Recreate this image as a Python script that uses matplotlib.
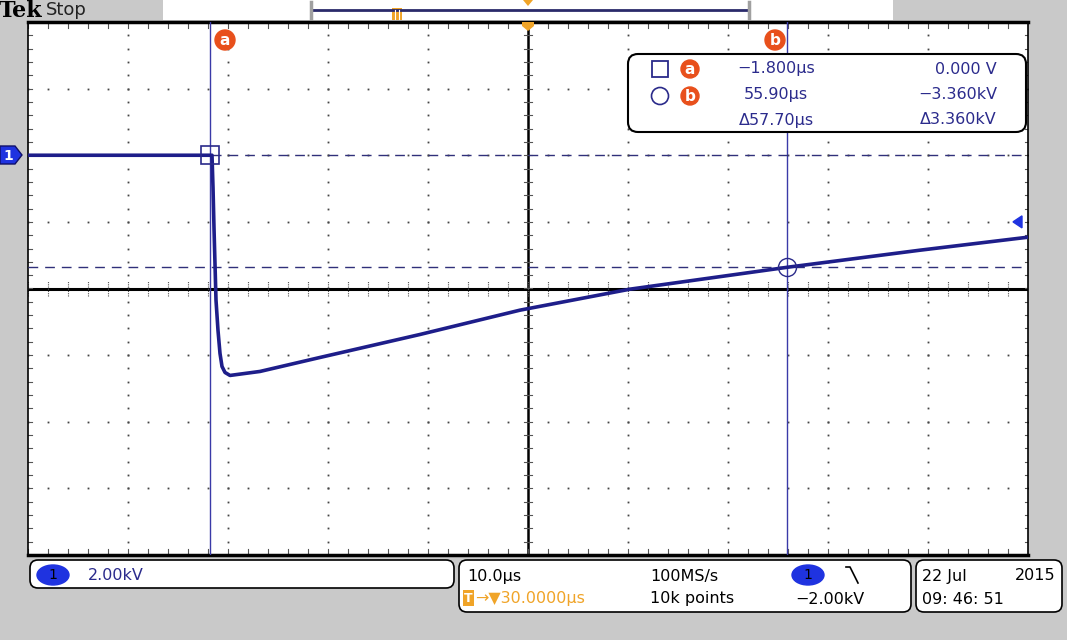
import numpy as np
import matplotlib
matplotlib.use("Agg")
import matplotlib.pyplot as plt
from matplotlib.patches import FancyBboxPatch, Rectangle, Polygon, Ellipse

# waveform (time in us, voltage in kV)
t_us = [-20, -1.6, -1.5, -1.4, -1.2, -1.0, -0.8, -0.6, -0.3, 0.2, 3.2, 9.2, 19.2, 29.2, 40.2, 56.0, 69.2, 80]
v_kv = [0, 0, -0.96, -2.19, -4.35, -5.26, -5.95, -6.34, -6.52, -6.61, -6.49, -6.07, -5.38, -4.65, -4.02, -3.36, -2.85, -2.46]

# cursors
cur_t = [-1.8, 55.9]
cur_v = [0.0, -3.36]
readout_t = ["\u22121.800\u00b5s", "55.90\u00b5s", "\u039457.70\u00b5s"]
readout_v = ["0.000 V", "\u22123.360kV", "\u03943.360kV"]

# scope settings
t_min, t_max = -20, 80       # 10 us/div
v_min, v_max = -12, 4        # 2 kV/div
trig_level = -2.0

BG = "#c9c9c9"
NAVY = "#1e1e8a"
CURSOR = "#3a3aa8"
BLUE = "#1f33e0"
ORANGE = "#e8501c"
GOLD = "#f0a428"
TICK = "#555555"

W, H = 1067, 640
fig = plt.figure(figsize=(W / 100, H / 100), dpi=100, facecolor=BG)

# background layer in pixel coords
bg = fig.add_axes([0, 0, 1, 1], zorder=0)
bg.set_xlim(0, W)
bg.set_ylim(H, 0)
bg.axis("off")
bg.set_facecolor(BG)

# scope screen
L, R, T, B = 28, 1028, 22, 555
ax = fig.add_axes([L / W, (H - B) / H, (R - L) / W, (B - T) / H], zorder=1)
ax.set_xlim(t_min, t_max)
ax.set_ylim(v_min, v_max)
ax.set_xticks([])
ax.set_yticks([])
ax.set_facecolor("white")
for side in ["top", "bottom"]:
    ax.spines[side].set_linewidth(2.5)
for side in ["left", "right"]:
    ax.spines[side].set_linewidth(1.2)

# graticule dots
minor_v = np.arange(v_min, v_max + 0.01, 0.4)
minor_t = np.arange(t_min, t_max + 0.01, 2)
for tx in range(-10, 71, 10):
    if tx == 30:
        continue
    ax.plot([tx] * len(minor_v), minor_v, ls="none", marker="s", ms=1.3, color="#444444", mew=0)
for vy in range(-10, 3, 2):
    if vy == -4:
        continue
    ax.plot(minor_t, [vy] * len(minor_t), ls="none", marker="s", ms=1.3, color="#444444", mew=0)

# centre lines with ticks
ax.axhline(-4, color="black", lw=2.2, zorder=2)
ax.axvline(30, color="black", lw=1.8, zorder=2)
for tx in minor_t:
    ax.plot([tx, tx], [-4.22, -3.78], color=TICK, lw=0.8, ls=(0, (1, 1)))
    ax.plot([tx, tx], [v_max, v_max - 0.18], color=TICK, lw=0.8)
    ax.plot([tx, tx], [v_min, v_min + 0.18], color=TICK, lw=0.8)
for vy in minor_v:
    ax.plot([29.6, 30.4], [vy, vy], color=TICK, lw=0.8)
    ax.plot([t_min, t_min + 0.35], [vy, vy], color=TICK, lw=0.8)
    ax.plot([t_max, t_max - 0.35], [vy, vy], color=TICK, lw=0.8)

# cursors
for ct in cur_t:
    ax.axvline(ct, color=CURSOR, lw=1, zorder=3)
for cv in cur_v:
    ax.axhline(cv, color="#30307a", lw=1, ls=(0, (7, 5)), zorder=3)

# trace
ax.plot(t_us, v_kv, color=NAVY, lw=2.6, zorder=4, solid_joinstyle="round")

ax.plot(cur_t[0], cur_v[0], marker="s", ms=13, mfc="none", mec="#2a2a8a", mew=1.2, zorder=5)
ax.plot(cur_t[1], cur_v[1], marker="o", ms=13, mfc="none", mec="#2a2a8a", mew=1.0, zorder=5)

# overlay layer in pixel coords
ov = fig.add_axes([0, 0, 1, 1], zorder=3)
ov.set_xlim(0, W)
ov.set_ylim(H, 0)
ov.axis("off")
ov.patch.set_alpha(0)


def badge(x, y, letter, r=10):
    ov.add_patch(Ellipse((x, y), 2 * r, 2 * r, color=ORANGE, zorder=6))
    ov.text(x, y + 0.5, letter, color="white", fontsize=11, fontweight="bold",
            ha="center", va="center", zorder=7)


def pill(x, y, label):
    ov.add_patch(Ellipse((x, y), 32, 20, color=BLUE, zorder=6))
    ov.text(x, y, label, color="black", fontsize=10, ha="center", va="center", zorder=7)


badge(225, 40, "a")
badge(775, 40, "b")

# readout box
ov.add_patch(FancyBboxPatch((630, 56), 394, 74, boxstyle="round,pad=2,rounding_size=10",
                            fc="white", ec="black", lw=1.5, zorder=5))
ov.add_patch(Rectangle((652, 61), 16, 16, fc="none", ec="#2a2a8a", lw=1.3, zorder=6))
ov.add_patch(Ellipse((660, 96), 17, 17, fc="none", ec="#2a2a8a", lw=1.2, zorder=6))
badge(690, 69, "a", r=9)
badge(690, 96, "b", r=9)
for i, (st, sv) in enumerate(zip(readout_t, readout_v)):
    y = 69 + i * 25.5
    ov.text(776, y, st, color="#2b2b8c", fontsize=11.5, ha="center", va="center", zorder=7)
    ov.text(997, y, sv, color="#2b2b8c", fontsize=11.5, ha="right", va="center", zorder=7)

# channel ground marker and trigger level marker
ov.add_patch(Polygon([(0, 146), (15, 146), (22, 155), (15, 164), (0, 164)], closed=True,
                     fc=BLUE, ec="#10106a", lw=1, zorder=6))
ov.text(8, 155.5, "1", color="white", fontsize=10, fontweight="bold", ha="center", va="center", zorder=7)
trig_y = T + (v_max - trig_level) / (v_max - v_min) * (B - T)
ov.add_patch(Polygon([(1013, trig_y), (1022, trig_y - 6), (1022, trig_y + 6)], closed=True,
                     fc=BLUE, ec=BLUE, zorder=6))

# top bar
bg.text(-1, 11, "Tek", fontsize=16, fontweight="bold", family="DejaVu Serif", va="center", ha="left")
bg.text(46, 10, "Stop", fontsize=13, color="#222222", va="center", ha="left")
bg.add_patch(Rectangle((163, 0), 730, 20, fc="white", ec="none"))
bg.plot([312, 748], [10, 10], color="#2a2a6a", lw=2)
bg.plot([311, 311], [2, 18], color="#a0a0a0", lw=2.5)
bg.plot([749, 749], [2, 18], color="#a0a0a0", lw=2.5)
bg.add_patch(Rectangle((392, 8), 10, 12, fc=GOLD, ec="none"))
bg.plot([395, 395], [10, 19], color="white", lw=0.8)
bg.plot([399, 399], [10, 19], color="white", lw=0.8)
bg.add_patch(Polygon([(523, 0), (533, 0), (528, 6)], closed=True, fc=GOLD, ec="none"))
ov.add_patch(Polygon([(522, 22), (534, 22), (534, 26), (528, 31), (522, 26)], closed=True,
                     fc=GOLD, ec="none", zorder=6))

# bottom bar
bg.add_patch(FancyBboxPatch((32, 562), 420, 24, boxstyle="round,pad=2,rounding_size=8",
                            fc="white", ec="black", lw=1.2))
pill(53, 575, "1")
bg.text(88, 575, "2.00kV", color="#2b2b8c", fontsize=11.5, va="center", ha="left")

bg.add_patch(FancyBboxPatch((461, 562), 448, 48, boxstyle="round,pad=2,rounding_size=8",
                            fc="white", ec="black", lw=1.2))
bg.text(467, 576, "10.0\u00b5s", color="black", fontsize=11.5, va="center", ha="left")
bg.text(650, 576, "100MS/s", color="black", fontsize=11.5, va="center", ha="left")
pill(808, 575, "1")
bg.plot([846, 850, 858], [567, 567, 583], color="black", lw=1.2)
bg.add_patch(Rectangle((463, 590), 11, 16, fc=GOLD, ec="none"))
bg.text(468.5, 598, "T", color="white", fontsize=9, fontweight="bold", va="center", ha="center")
bg.text(475, 599, "\u2192\u25bc30.0000\u00b5s", color=GOLD, fontsize=11.5, va="center", ha="left")
bg.text(650, 599, "10k points", color="black", fontsize=11.5, va="center", ha="left")
bg.text(795, 599, "\u22122.00kV", color="black", fontsize=11.5, va="center", ha="left")

bg.add_patch(FancyBboxPatch((918, 562), 142, 48, boxstyle="round,pad=2,rounding_size=8",
                            fc="white", ec="black", lw=1.2))
bg.text(922, 576, "22 Jul", color="black", fontsize=11.5, va="center", ha="left")
bg.text(1056, 576, "2015", color="black", fontsize=11.5, va="center", ha="right")
bg.text(922, 599, "09: 46: 51", color="black", fontsize=11.5, va="center", ha="left")

fig.savefig("out.png", dpi=100, facecolor=BG)
